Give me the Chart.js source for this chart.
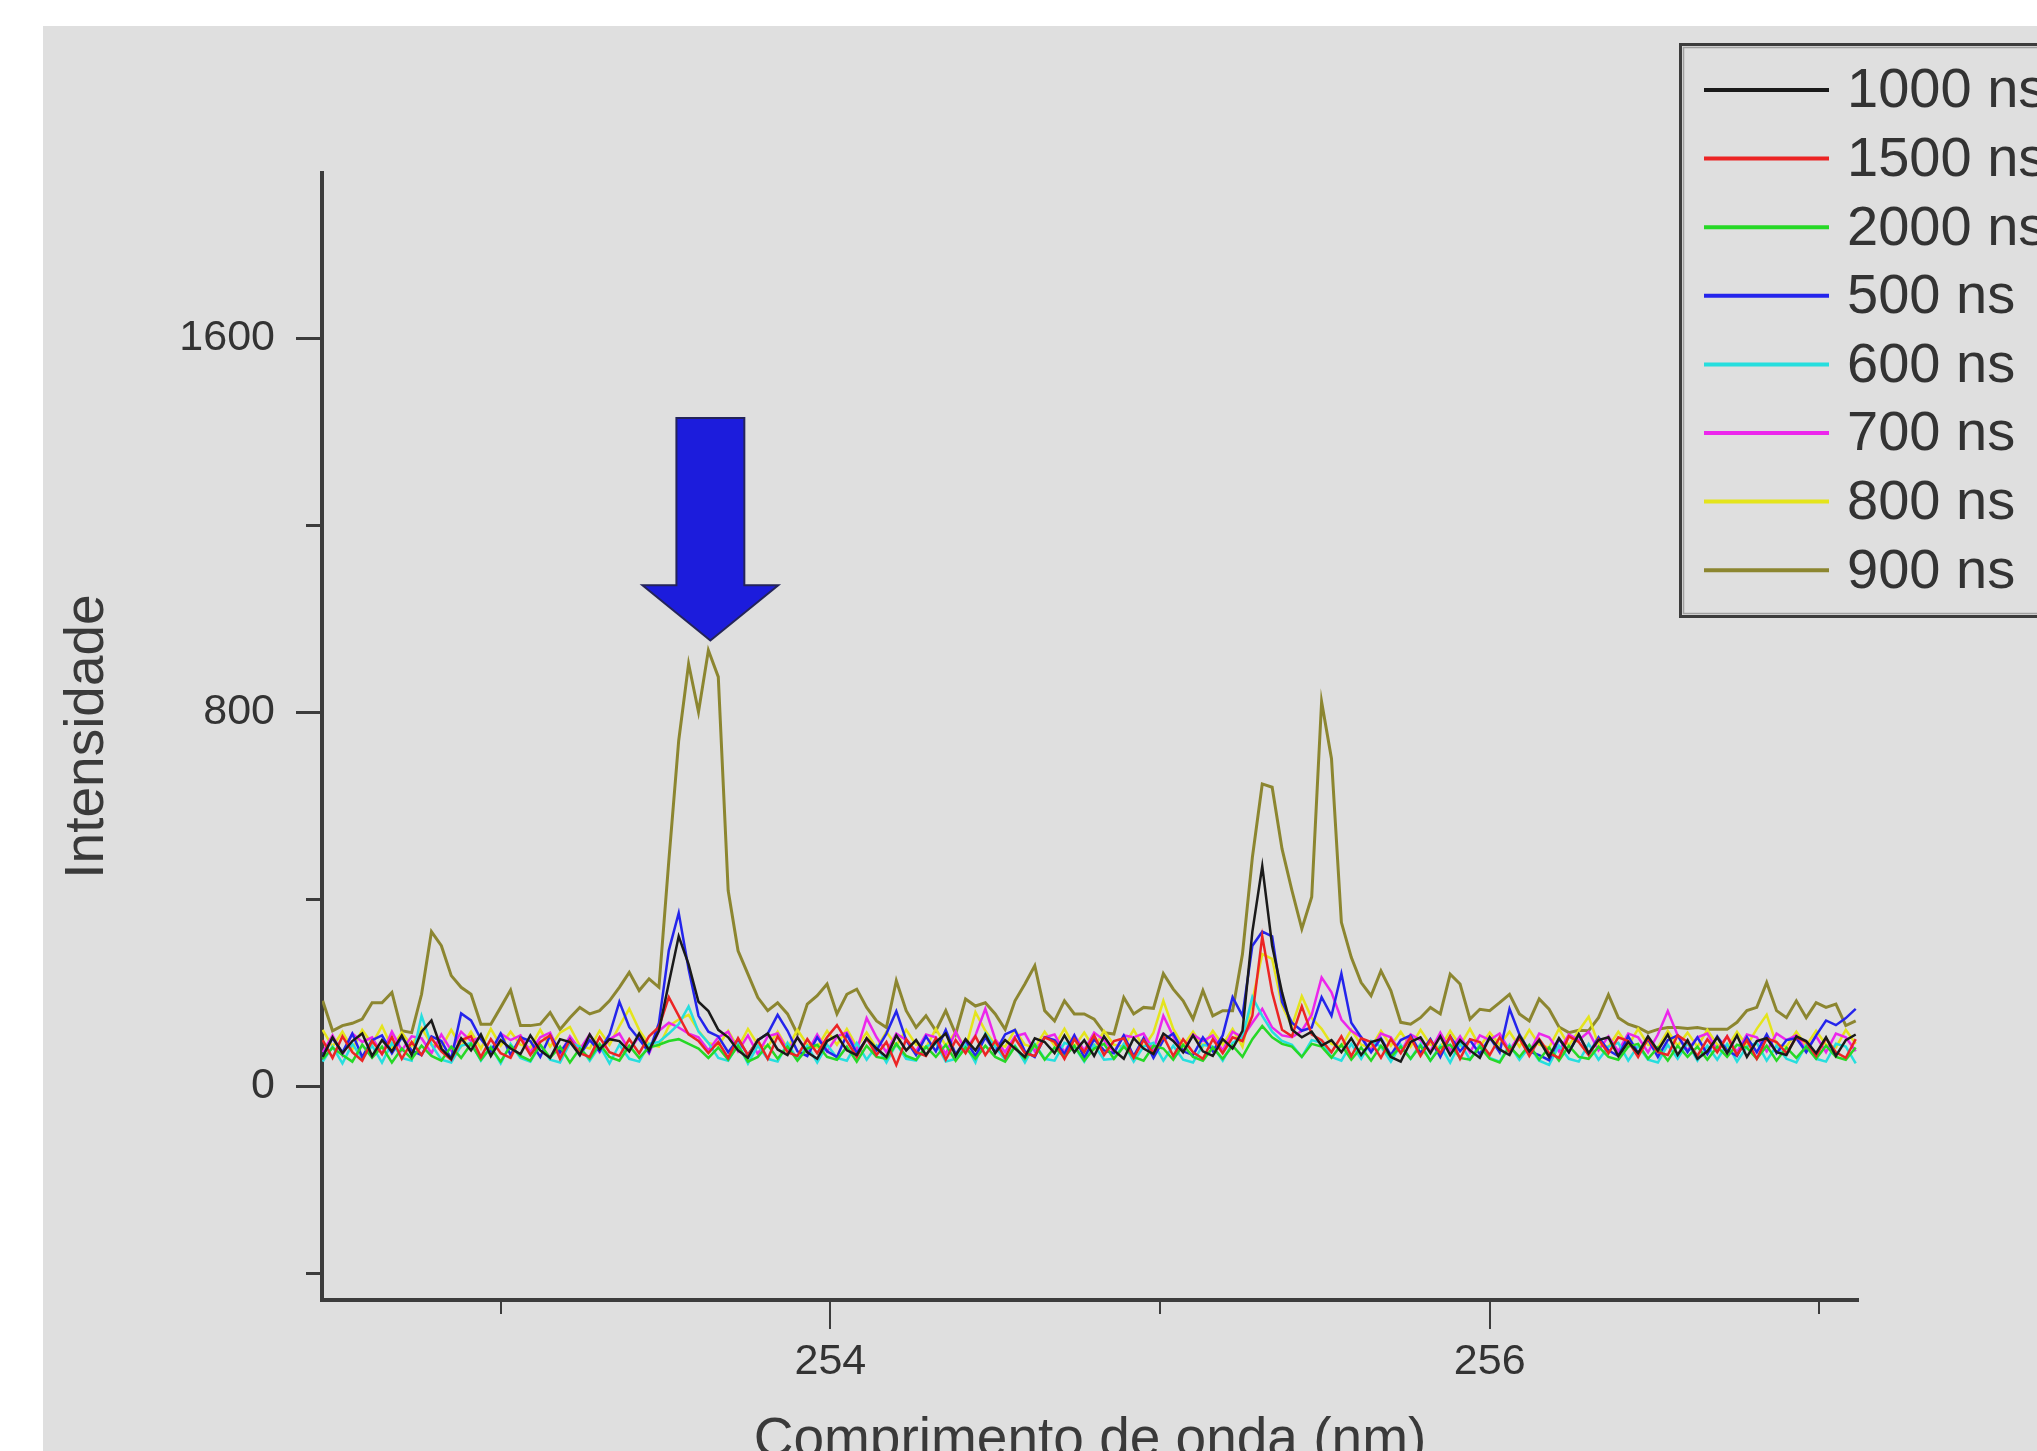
<!DOCTYPE html>
<html>
<head>
<meta charset="utf-8">
<title>Intensidade x Comprimento de onda</title>
<script src="https://cdn.jsdelivr.net/npm/chart.js@4.4.1/dist/chart.umd.min.js"></script>
<style>
  html, body { margin: 0; padding: 0; width: 2037px; height: 1451px; overflow: hidden; background: #fff; }
  #wrap { position: absolute; left: 43px; top: 26px; width: 1994px; height: 1470px; background: #dfdfdf; }
</style>
</head>
<body>
<div id="wrap"><canvas id="espectro"></canvas></div>
<script>
// comprimentos de onda (nm)
const comprimentos = [
  252.46,252.49,252.52,252.55,252.58,252.61,252.64,252.67,252.70,252.73,
  252.76,252.79,252.82,252.85,252.88,252.91,252.94,252.97,253.00,253.03,
  253.06,253.09,253.12,253.15,253.18,253.21,253.24,253.27,253.30,253.33,
  253.36,253.39,253.42,253.45,253.48,253.51,253.54,253.57,253.60,253.63,
  253.66,253.69,253.72,253.75,253.78,253.81,253.84,253.87,253.90,253.93,
  253.96,253.99,254.02,254.05,254.08,254.11,254.14,254.17,254.20,254.23,
  254.26,254.29,254.32,254.35,254.38,254.41,254.44,254.47,254.50,254.53,
  254.56,254.59,254.62,254.65,254.68,254.71,254.74,254.77,254.80,254.83,
  254.86,254.89,254.92,254.95,254.98,255.01,255.04,255.07,255.10,255.13,
  255.16,255.19,255.22,255.25,255.28,255.31,255.34,255.37,255.40,255.43,
  255.46,255.49,255.52,255.55,255.58,255.61,255.64,255.67,255.70,255.73,
  255.76,255.79,255.82,255.85,255.88,255.91,255.94,255.97,256.00,256.03,
  256.06,256.09,256.12,256.15,256.18,256.21,256.24,256.27,256.30,256.33,
  256.36,256.39,256.42,256.45,256.48,256.51,256.54,256.57,256.60,256.63,
  256.66,256.69,256.72,256.75,256.78,256.81,256.84,256.87,256.90,256.93,
  256.96,256.99,257.02,257.05,257.08,257.11
];

// intensidades por atraso
const i1000 = [
  62,104,70,96,112,64,98,74,108,66, 116,140,80,58,102,76,110,64,98,80,
  68,108,76,60,100,94,66,110,78,100, 96,74,112,76,118,220,320,260,180,160,
  120,104,76,60,98,112,78,66,104,72, 58,96,108,76,66,102,80,62,108,76,
  98,66,94,112,64,100,76,110,70,98, 80,62,102,94,70,108,72,98,64,106,
  76,58,102,80,68,112,96,72,108,74, 64,100,80,118,330,470,300,200,120,104,
  116,86,98,72,102,66,94,100,62,52, 94,104,70,106,66,98,76,60,104,78,
  66,108,74,98,62,102,72,110,70,98, 104,64,94,70,106,76,110,66,98,58,
  74,104,70,108,62,96,102,72,66,106, 96,70,104,64,98,110
];
const i1500 = [
  98,60,106,72,54,96,68,104,58,94, 66,102,74,56,98,106,62,100,70,60,
  102,66,94,108,58,98,70,62,104,72, 64,100,70,106,126,190,150,110,96,70,
  94,60,102,66,98,58,106,72,64,100, 70,104,130,96,62,102,66,94,45,100,
  72,64,102,56,98,70,106,66,96,60, 102,70,64,104,94,58,100,72,108,66,
  96,102,60,98,70,106,64,100,72,58, 100,70,104,96,150,320,200,120,106,170,
  110,98,72,106,64,102,94,60,100,70, 104,64,98,70,106,58,100,94,66,104,
  72,102,64,100,70,60,106,94,66,100, 70,104,96,62,102,72,66,108,94,64,
  100,72,106,66,98,58,102,94,70,104, 94,64,102,72,60,100
];
const i2000 = [
  58,82,66,52,88,60,84,50,80,58, 86,64,54,84,60,90,56,82,52,86,
  64,54,88,60,84,50,80,58,90,62, 54,86,60,82,88,96,100,90,80,60,
  82,56,86,52,62,88,58,84,54,80, 88,62,56,84,52,86,62,58,90,64,
  56,84,62,88,54,82,58,86,62,52, 84,58,88,56,82,62,86,54,80,90,
  58,84,62,54,86,80,56,88,62,54, 82,58,86,62,100,128,104,90,84,62,
  90,84,60,88,56,82,54,86,62,84, 58,86,54,82,88,60,56,84,58,50,
  84,62,88,56,82,54,86,62,58,84, 62,56,84,90,58,82,54,86,62,84,
  56,84,62,88,82,58,86,54,82,60, 84,58,86,62,56,82
];
const i500 = [
  64,102,72,112,62,98,108,70,104,76, 66,106,96,58,155,140,100,74,112,66,
  104,96,62,108,72,100,66,98,74,110, 180,126,100,72,135,290,370,250,150,116,
  106,72,100,66,98,112,152,118,74,64, 104,74,62,110,70,100,76,112,160,98,
  66,106,74,120,68,98,64,104,72,110, 120,74,62,104,98,68,108,60,100,76,
  70,108,64,102,60,98,112,74,66,104, 74,108,190,150,300,330,320,180,135,118,
  125,190,150,240,135,104,72,102,66,98, 108,70,100,62,106,74,98,68,104,72,
  165,110,74,66,55,100,72,110,68,104, 76,64,106,70,100,62,98,108,72,104,
  68,106,76,64,104,72,110,70,98,102, 72,108,140,130,145,165
];
const i600 = [
  52,84,48,90,58,86,50,92,60,54, 150,88,56,50,86,92,54,84,48,90,
  60,52,88,56,50,92,84,54,86,48, 88,58,52,90,94,112,132,170,116,92,
  60,54,90,48,86,58,52,92,56,86, 50,88,60,54,92,56,86,50,90,58,
  54,84,92,52,58,88,50,112,84,56, 86,50,90,58,54,92,84,52,88,56,
  58,90,52,84,92,54,86,56,50,88, 84,54,92,104,190,150,116,96,88,62,
  98,92,62,54,90,58,96,84,52,88, 58,90,54,86,50,92,56,88,60,52,
  88,56,84,54,45,86,58,52,90,56, 84,92,54,86,56,50,88,58,92,54,
  86,56,90,52,84,92,54,86,58,50, 88,58,52,90,84,48
];
const i700 = [
  72,108,66,112,94,104,68,116,76,106, 102,70,110,76,116,96,104,68,112,98,
  108,72,104,114,68,106,78,110,72,100, 112,76,106,70,118,135,125,112,104,76,
  104,116,74,108,68,106,112,76,104,72, 110,74,106,114,76,145,104,72,112,98,
  74,110,104,68,116,76,108,165,100,72, 106,112,74,104,110,72,108,76,114,98,
  72,108,104,112,76,150,106,74,110,96, 108,76,116,104,135,165,125,108,104,118,
  152,232,200,142,118,104,76,112,104,72, 110,98,74,114,76,106,72,108,98,112,
  76,108,72,112,104,74,110,98,116,76, 106,74,112,104,72,110,160,108,76,104,
  112,76,106,72,110,104,74,112,98,108, 76,106,72,112,104,74
];
const i800 = [
  120,84,116,78,120,90,128,82,114,86, 124,88,82,120,84,116,80,122,86,116,
  88,82,120,84,114,126,86,80,118,88, 128,165,120,88,84,128,142,152,118,92,
  86,118,82,122,88,84,116,80,120,88, 82,118,88,122,84,114,80,116,86,120,
  88,82,122,86,116,80,158,118,88,84, 120,88,82,116,86,122,84,114,80,118,
  88,84,120,82,114,182,122,86,116,84, 118,88,122,84,182,282,272,172,128,192,
  145,122,90,84,120,88,82,118,86,116, 84,120,88,82,118,86,122,84,114,88,
  116,84,120,88,82,122,86,118,148,88, 84,116,86,122,88,82,118,86,114,84,
  120,88,82,116,86,122,152,88,84,116, 86,118,88,82,120,90
];
const i900 = [
  182,118,129,134,143,178,178,200,118,114, 196,330,300,236,211,196,132,132,168,205,
  129,129,132,157,121,146,168,154,161,182, 211,243,204,229,211,482,739,903,800,932,
  875,418,289,239,189,161,178,154,111,175, 193,218,154,196,207,168,139,125,225,161,
  125,150,118,161,111,186,171,178,154,121, 182,218,257,161,139,182,154,154,143,114,
  111,189,154,168,166,240,207,182,143,204, 150,161,161,282,489,646,639,507,418,336,
  404,822,700,350,275,221,193,246,204,136, 132,146,168,154,239,218,143,164,161,178,
  196,154,139,186,164,126,114,119,118,146, 195,146,132,125,114,121,125,125,123,125,
  121,121,121,136,161,168,221,161,146,182, 146,178,168,175,129,139
];

const series = [i1000, i1500, i2000, i500, i600, i700, i800, i900];
const rotulos = ['1000 ns', '1500 ns', '2000 ns', '500 ns', '600 ns', '700 ns', '800 ns', '900 ns'];
const cores = ['#1a1a1a', '#ec2424', '#26d826', '#2424ec', '#26dede', '#ec26ec', '#e4e41c', '#8c8630'];

// marcas dos eixos
const marcasX = [253, 254, 255, 256, 257];
const marcasY = [-400, 0, 400, 800, 1200, 1600];

// seta indicando o pico (coordenadas em unidades dos eixos)
const seta = { x: 253.636, ponta: 953, base: 1071, topo: 1429, meiaCabeca: 0.206, meiaHaste: 0.103 };

Chart.defaults.font.family = '"Liberation Sans", Arial, sans-serif';
Chart.defaults.color = '#333';

const corEixo = '#3c3c3c';

const marcas = {
  id: 'marcas',
  afterDraw(chart) {
    const {ctx, chartArea, scales} = chart;
    ctx.save();
    ctx.strokeStyle = corEixo;
    ctx.lineWidth = 3;
    scales.y.ticks.forEach(t => {
      const py = Math.round(scales.y.getPixelForValue(t.value)) + 0.5;
      const len = t.value % 800 === 0 ? 26 : 16;
      ctx.beginPath();
      ctx.moveTo(chartArea.left, py);
      ctx.lineTo(chartArea.left - len, py);
      ctx.stroke();
    });
    ctx.lineWidth = 2;
    scales.x.ticks.forEach(t => {
      const px = Math.round(scales.x.getPixelForValue(t.value));
      const len = t.value % 2 === 0 ? 29 : 14;
      ctx.beginPath();
      ctx.moveTo(px, chartArea.bottom);
      ctx.lineTo(px, chartArea.bottom + len);
      ctx.stroke();
    });
    ctx.restore();
  }
};

const desenhaSeta = {
  id: 'seta',
  afterDatasetsDraw(chart) {
    const {ctx, scales: {x, y}} = chart;
    const cx = x.getPixelForValue(seta.x);
    const hh = x.getPixelForValue(seta.x + seta.meiaHaste) - cx;
    const hc = x.getPixelForValue(seta.x + seta.meiaCabeca) - cx;
    const yt = y.getPixelForValue(seta.topo);
    const yb = y.getPixelForValue(seta.base);
    const yp = y.getPixelForValue(seta.ponta);
    ctx.save();
    ctx.beginPath();
    ctx.moveTo(cx - hh, yt);
    ctx.lineTo(cx + hh, yt);
    ctx.lineTo(cx + hh, yb);
    ctx.lineTo(cx + hc, yb);
    ctx.lineTo(cx, yp);
    ctx.lineTo(cx - hc, yb);
    ctx.lineTo(cx - hh, yb);
    ctx.closePath();
    ctx.fillStyle = '#1c1cdc';
    ctx.fill();
    ctx.lineWidth = 2;
    ctx.strokeStyle = '#24245a';
    ctx.stroke();
    ctx.restore();
  }
};

const legenda = {
  id: 'legendaCaixa',
  afterDraw(chart) {
    const ctx = chart.ctx;
    ctx.save();
    ctx.lineWidth = 3;
    ctx.strokeStyle = corEixo;
    ctx.strokeRect(1637.5, 18.5, 600, 572);
    ctx.lineWidth = 1.5;
    ctx.strokeStyle = '#a0a0a0';
    ctx.strokeRect(1640.5, 21.5, 600, 566);
    ctx.font = '56px "Liberation Sans", Arial, sans-serif';
    ctx.textBaseline = 'middle';
    ctx.fillStyle = '#333';
    chart.data.datasets.forEach((ds, k) => {
      const yy = 64 + k * 68.6;
      ctx.strokeStyle = ds.borderColor;
      ctx.lineWidth = 4;
      ctx.beginPath();
      ctx.moveTo(1661, yy);
      ctx.lineTo(1786, yy);
      ctx.stroke();
      ctx.fillText(ds.label, 1804, yy + 2);
    });
    ctx.restore();
  }
};

new Chart(document.getElementById('espectro'), {
  type: 'line',
  data: {
    datasets: series.map((s, k) => ({
      label: rotulos[k],
      data: comprimentos.map((w, i) => ({x: w, y: s[i]})),
      borderColor: cores[k],
      borderWidth: k === 7 ? 3 : 2.5,
      pointRadius: 0,
      tension: 0,
      fill: false
    }))
  },
  options: {
    responsive: true,
    maintainAspectRatio: false,
    animation: false,
    layout: { padding: { top: 147, right: 179, left: 0, bottom: 0 } },
    plugins: { legend: { display: false }, tooltip: { enabled: false } },
    scales: {
      x: {
        type: 'linear',
        min: 252.458,
        max: 257.117,
        afterBuildTicks: s => { s.ticks = marcasX.map(v => ({value: v})); },
        afterFit: s => { s.height = 196; },
        grid: { drawOnChartArea: false, drawTicks: true, tickLength: 29, color: 'rgba(0,0,0,0)', tickColor: 'rgba(0,0,0,0)' },
        border: { display: true, color: corEixo, width: 4 },
        ticks: {
          autoSkip: false,
          maxRotation: 0,
          padding: 7,
          font: { size: 43 },
          color: '#333',
          callback: v => (v % 2 === 0 ? String(v) : '')
        },
        title: {
          display: true,
          text: 'Comprimento de onda (nm)',
          font: { size: 55 },
          color: '#3a3a3a',
          padding: { top: 0, bottom: 22 }
        }
      },
      y: {
        type: 'linear',
        min: -458,
        max: 1953,
        afterBuildTicks: s => { s.ticks = marcasY.map(v => ({value: v})); },
        afterFit: s => { s.width = 279; },
        grid: { drawOnChartArea: false, drawTicks: true, tickLength: 26, color: 'rgba(0,0,0,0)', tickColor: 'rgba(0,0,0,0)' },
        border: { display: true, color: corEixo, width: 4 },
        ticks: {
          autoSkip: false,
          padding: 21,
          font: { size: 43 },
          color: '#333',
          callback: v => (v % 800 === 0 ? String(v) : '')
        },
        title: {
          display: true,
          text: 'Intensidade',
          font: { size: 55 },
          color: '#3a3a3a',
          padding: { top: 12, bottom: 0 }
        }
      }
    }
  },
  plugins: [desenhaSeta, marcas, legenda]
});
</script>
</body>
</html>
